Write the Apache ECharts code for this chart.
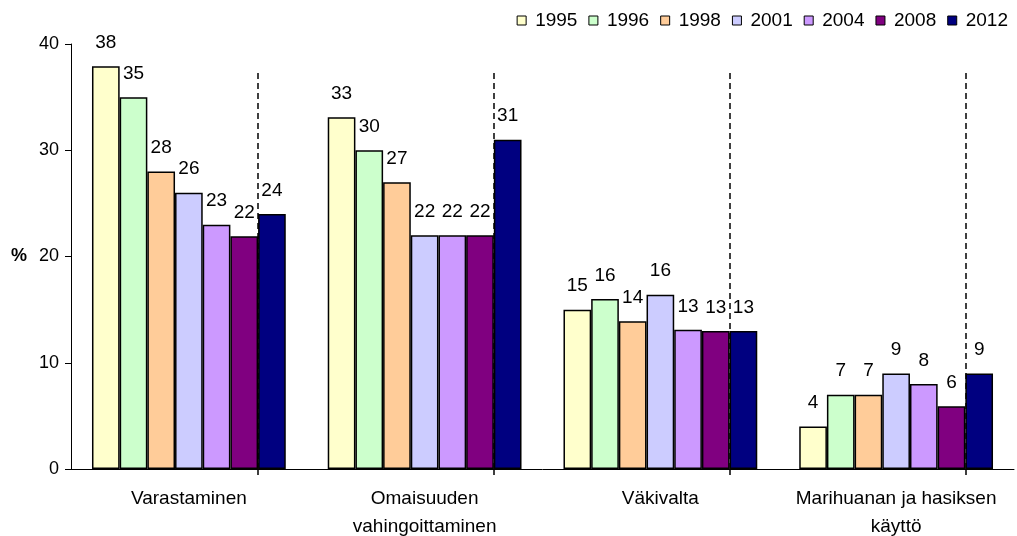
<!DOCTYPE html>
<html>
<head>
<meta charset="utf-8">
<script src="https://cdn.jsdelivr.net/npm/echarts@6/dist/echarts.min.js"></script>
<style>html,body{margin:0;padding:0;background:#fff}#c{width:1017px;height:536px}</style>
</head>
<body>
<div id="c"></div>
<script>
var categories = ['Varastaminen', 'Omaisuuden\nvahingoittaminen', 'Väkivalta', 'Marihuanan ja hasiksen\nkäyttö'];
var years = ['1995', '1996', '1998', '2001', '2004', '2008', '2012'];
var v1995 = [37.9, 33.1, 15.0, 4.0];
var v1996 = [35.0, 30.0, 16.0, 7.0];
var v1998 = [28.0, 27.0, 13.9, 7.0];
var v2001 = [26.0, 22.0, 16.4, 9.0];
var v2004 = [23.0, 22.0, 13.1, 8.0];
var v2008 = [21.9, 22.0, 13.0, 5.9];
var v2012 = [24.0, 31.0, 13.0, 9.0];
var colors = ['#FFFFCC', '#CCFFCC', '#FFCC99', '#CCCCFF', '#CC99FF', '#800080', '#000080'];
var yTicks = [0, 10, 20, 30, 40];
var dividerTop = 37.3;

var seriesValues = [v1995, v1996, v1998, v2001, v2004, v2008, v2012];
var gapPct = 17.8;
var barFrac = (1 - gapPct / 100) / years.length;
var dividerPos = categories.map(function (c, i) { return i + gapPct / 200 + (years.length - 1) * barFrac; });

var FONT = 'Liberation Sans, Arial, sans-serif';
var series = years.map(function (y, i) {
  return {
    name: y, type: 'bar', data: seriesValues[i],
    barGap: '0%', barCategoryGap: gapPct + '%',
    itemStyle: { color: colors[i], borderColor: '#000', borderWidth: 1.5 },
    label: { show: true, position: 'top', distance: 14, color: '#000', fontSize: 19, fontFamily: FONT,
      formatter: function (p) { return Math.round(p.value); } }
  };
});
series.push({
  type: 'line', xAxisIndex: 1, data: [], silent: true,
  markLine: {
    symbol: 'none', silent: true, label: { show: false },
    lineStyle: { color: '#000', width: 1.5, type: [6, 4] },
    data: dividerPos.map(function (p) { return [{ coord: [p, 0] }, { coord: [p, dividerTop] }]; })
  }
});

var chart = echarts.init(document.getElementById('c'));
chart.setOption({
  animation: false,
  backgroundColor: '#fff',
  textStyle: { fontFamily: FONT },
  legend: {
    data: years, right: 4, top: 6, icon: 'rect', itemWidth: 9, itemHeight: 9, itemGap: 11,
    itemStyle: { borderColor: '#000', borderWidth: 1 },
    textStyle: { fontSize: 19, color: '#000', fontFamily: FONT, padding: [0, 0, 0, 4] }
  },
  grid: { left: 71, right: 3, top: 44, bottom: 67, containLabel: false, outerBoundsMode: 'none' },
  xAxis: [{
    type: 'category', data: categories,
    axisLine: { lineStyle: { color: '#000', width: 1 } },
    axisTick: { show: false },
    axisLabel: { color: '#000', fontSize: 19, fontFamily: FONT, margin: 16, lineHeight: 28, interval: 0 }
  }, {
    type: 'value', min: 0, max: categories.length, position: 'bottom',
    axisLine: { show: false }, splitLine: { show: false },
    axisLabel: { show: false },
    axisTick: { show: true, customValues: dividerPos, length: 6, lineStyle: { color: '#000', width: 1.5 } }
  }],
  yAxis: {
    type: 'value', min: 0, max: 40, interval: 10,
    name: '%', nameLocation: 'middle', nameRotate: 0, nameGap: 44,
    nameTextStyle: { fontSize: 18, fontWeight: 'bold', color: '#000', fontFamily: FONT },
    axisLine: { show: true, lineStyle: { color: '#000', width: 1 } },
    axisTick: { show: true, length: 6, lineStyle: { color: '#000' } },
    splitLine: { show: false },
    axisLabel: { color: '#000', fontSize: 18, fontFamily: FONT, margin: 12,
      customValues: yTicks }
  },
  series: series
});
</script>
</body>
</html>
